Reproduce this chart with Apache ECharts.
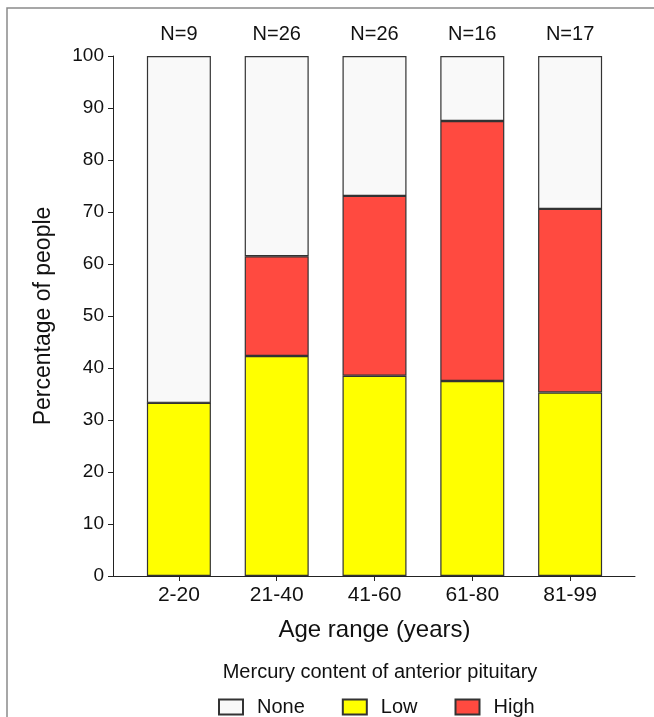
<!DOCTYPE html>
<html>
<head>
<meta charset="utf-8">
<script src="https://cdn.jsdelivr.net/npm/echarts@6/dist/echarts.min.js"></script>
<style>
html,body{margin:0;padding:0;background:#fff;}
#c{width:654px;height:717px;}
</style>
</head>
<body>
<div id="c"></div>
<script>
const categories = ['2-20', '21-40', '41-60', '61-80', '81-99'];
const sampleSizes = [9, 26, 26, 16, 17];
const lowPct = [33.3, 42.3, 38.5, 37.5, 35.3];
const highPct = [0, 19.2, 34.6, 50.0, 35.3];
const nonePct = [66.7, 38.5, 26.9, 12.5, 29.4];
const yTicks = [0, 10, 20, 30, 40, 50, 60, 70, 80, 90, 100];

const FONT = 'Liberation Sans, Arial, sans-serif';
const chart = echarts.init(document.getElementById('c'), null, {renderer: 'canvas'});
const border = {borderColor: '#333', borderWidth: 1.2};

chart.setOption({
  animation: false,
  textStyle: {fontFamily: FONT, color: '#111'},
  title: {
    text: 'Mercury content of anterior pituitary',
    left: 375, top: 657, textAlign: 'center',
    textStyle: {fontSize: 20, fontWeight: 'normal', color: '#111', fontFamily: FONT}
  },
  legend: {
    data: ['None', 'Low', 'High'],
    left: 213, top: 692, icon: 'rect',
    itemWidth: 24, itemHeight: 15, itemGap: 37,
    textStyle: {fontSize: 20, color: '#111', fontFamily: FONT, padding: [0, 0, 0, 9]}
  },
  graphic: [
    {type: 'polyline', shape: {points: [[7, 717], [7, 8], [654, 8]]},
     style: {stroke: '#8a8a8a', lineWidth: 1.5, fill: null}}
  ],
  grid: [
    {left: 113, right: 19, top: 56, bottom: 141},
    {left: 130, right: 35, top: 56, bottom: 141}
  ],
  xAxis: [
    {gridIndex: 0, type: 'value', min: 0, max: 1, show: true,
     axisLine: {show: true, lineStyle: {color: '#222', width: 1}},
     axisTick: {show: false}, axisLabel: {show: false}, splitLine: {show: false}},
    {gridIndex: 1, type: 'category', data: categories,
     axisLine: {show: false},
     axisTick: {show: true, alignWithLabel: true, length: 5, lineStyle: {color: '#222'}},
     axisLabel: {fontSize: 21, color: '#111', margin: 9, fontFamily: FONT},
     name: 'Age range (years)', nameLocation: 'middle', nameGap: 42,
     nameTextStyle: {fontSize: 24, color: '#111', fontFamily: FONT}}
  ],
  yAxis: [
    {gridIndex: 0, type: 'value', min: yTicks[0], max: yTicks[yTicks.length - 1], interval: 10,
     axisLine: {show: true, lineStyle: {color: '#222', width: 1}},
     axisTick: {show: true, length: 5, lineStyle: {color: '#222'}},
     axisLabel: {fontSize: 19, color: '#111', margin: 9, fontFamily: FONT},
     splitLine: {show: false},
     name: 'Percentage of people', nameLocation: 'middle', nameGap: 58,
     nameTextStyle: {fontSize: 23, color: '#111', fontFamily: FONT}},
    {gridIndex: 1, type: 'value', min: 0, max: 100, show: false}
  ],
  series: [
    {name: 'Low', type: 'bar', stack: 'a', xAxisIndex: 1, yAxisIndex: 1, barWidth: 64,
     data: lowPct, itemStyle: Object.assign({color: '#ffff00'}, border)},
    {name: 'High', type: 'bar', stack: 'a', xAxisIndex: 1, yAxisIndex: 1, barWidth: 64,
     data: highPct, itemStyle: Object.assign({color: '#ff4a40'}, border)},
    {name: 'None', type: 'bar', stack: 'a', xAxisIndex: 1, yAxisIndex: 1, barWidth: 64,
     data: nonePct, itemStyle: Object.assign({color: '#f9f9f9'}, border),
     label: {show: true, position: 'top', distance: 12, fontSize: 20, color: '#111', fontFamily: FONT,
       formatter: p => 'N=' + sampleSizes[p.dataIndex]}}
  ]
});
</script>
</body>
</html>
